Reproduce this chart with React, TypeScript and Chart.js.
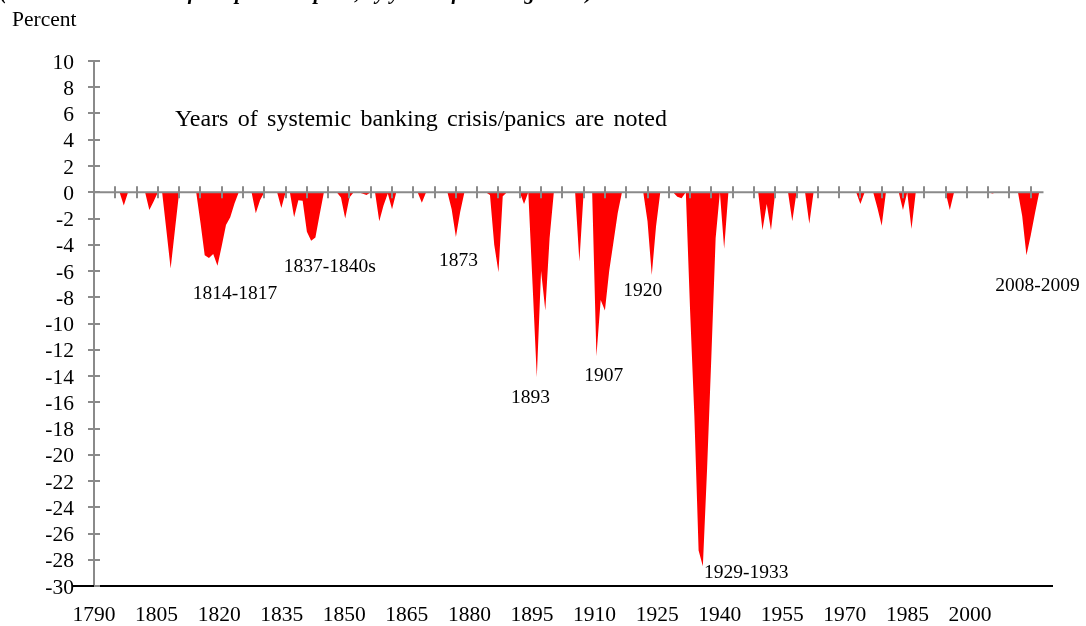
import React, { useEffect, useRef } from 'react';
import { Chart, registerables } from 'chart.js';

Chart.register(...registerables);

// ---- data ----
const startYear = 1790;
// Peak-to-trough output declines (percent), one value per year 1790..2012
const declines: number[] = [
  // 1790-1799
  0, 0, 0, 0, 0, 0, 0, -1.0, 0, 0,
  // 1800-1809
  0, 0, 0, -1.35, -0.7, 0, 0, -2.9, -5.8, -2.9,
  // 1810-1819
  0, 0, 0, 0, 0, -2.3, -4.8, -5.0, -4.7, -5.6,
  // 1820-1829
  -4.1, -2.5, -1.9, -0.85, 0, 0, 0, 0, -1.6, -0.6,
  // 1830-1839
  0, 0, 0, 0, -1.2, 0, 0, -1.9, -0.6, -0.65,
  // 1840-1849
  -3.0, -3.7, -3.45, -1.7, 0, 0, 0, 0, -0.4, -2.0,
  // 1850-1859
  -0.4, 0, 0, -0.1, -0.2, 0, 0, -2.2, -1.0, -0.1,
  // 1860-1869
  -1.3, 0, 0, 0, 0, 0, 0, -0.8, 0, 0,
  // 1870-1879
  0, 0, 0, 0, -1.3, -3.4, -1.5, 0, 0, 0,
  // 1880-1889
  0, 0, 0, -0.2, -4.0, -6.1, -0.3, 0, 0, 0,
  // 1890-1899
  0, -0.9, 0, -7.0, -14.1, -6.0, -9.0, -3.5, 0, 0,
  // 1900-1909
  0, 0, 0, 0, -5.3, 0, 0, 0, -12.5, -8.2,
  // 1910-1919
  -9.0, -6.0, -3.8, -1.6, 0, 0, 0, 0, 0, 0,
  // 1920-1929
  -2.2, -6.3, -2.6, 0, 0, 0, 0, -0.35, -0.45, 0,
  // 1930-1939
  -9.0, -17.0, -27.3, -28.5, -21.0, -12.5, -3.5, 0, -4.3, 0,
  // 1940-1949
  0, 0, 0, 0, 0, 0, 0, -2.9, -0.9, -2.9,
  // 1950-1959
  0, 0, 0, 0, -2.2, 0, 0, 0, -2.4, 0,
  // 1960-1969
  0, 0, 0, 0, 0, 0, 0, 0, 0, 0,
  // 1970-1979
  -0.9, 0, 0, 0, -1.2, -2.55, 0, 0, 0, 0,
  // 1980-1989
  -1.35, 0, -2.8, 0, 0, 0, 0, 0, 0, 0,
  // 1990-1999
  0, -1.35, 0, 0, 0, 0, 0, 0, 0, 0,
  // 2000-2009
  0, -0.1, 0, 0, 0, 0, 0, 0, -1.8, -4.8,
  // 2010-2012
  -3.3, -1.6, 0,
];

const bottomYearLabels = [1790, 1805, 1820, 1835, 1850, 1865, 1880, 1895, 1910, 1925, 1940, 1955, 1970, 1985, 2000];
const zeroLineTickYears = [
  1795, 1800, 1805, 1810, 1815, 1820, 1825, 1830, 1835, 1840, 1845, 1850, 1855, 1860, 1865,
  1870, 1875, 1880, 1885, 1890, 1895, 1900, 1905, 1910, 1915, 1920, 1925, 1930, 1935, 1940,
  1945, 1950, 1955, 1960, 1965, 1970, 1975, 1980, 1985, 1990, 1995, 2000, 2005, 2010,
];
const axisEndYear = 2013;

const crisisLabels = ['1814-1817', '1837-1840s', '1873', '1893', '1907', '1920', '1929-1933', '2008-2009'];

// ---- layout / style (kept apart from the data) ----
const crisisLabelAnchors = [
  { x: 1823.1, y: -7.75 },
  { x: 1845.4, y: -5.7 },
  { x: 1875.6, y: -5.24 },
  { x: 1892.5, y: -15.68 },
  { x: 1909.7, y: -14.0 },
  { x: 1918.9, y: -7.49 },
  { x: 1943.2, y: -28.97 },
  { x: 2011.6, y: -7.1 },
];
const noteText = 'Years of systemic banking crisis/panics are noted';
const noteAnchor = { x: 1809.0, y: 5.5, width: 492 };
const unitText = 'Percent';
const cutTitle = '(Cumulative declines from previous peak, by years of banking crisis)';

const RED = '#ff0000';
const GRAY = '#8a8a8a';
const SERIF = '"Liberation Serif", "Times New Roman", serif';

const points = declines.map((v, i) => ({ x: startYear + i, y: v }));

const overlayPlugin = {
  id: 'overlay',
  afterDatasetsDraw(chart: any) {
    const { ctx, scales, chartArea } = chart;
    const x = scales.x;
    const y = scales.y;
    const y0 = y.getPixelForValue(0);
    ctx.save();
    // zero axis line with crossing ticks
    ctx.strokeStyle = GRAY;
    ctx.lineWidth = 2;
    ctx.beginPath();
    ctx.moveTo(chartArea.left, y0);
    ctx.lineTo(x.getPixelForValue(axisEndYear), y0);
    ctx.stroke();
    ctx.beginPath();
    zeroLineTickYears.forEach((yr) => {
      const px = Math.round(x.getPixelForValue(yr));
      ctx.moveTo(px, y0 - 6);
      ctx.lineTo(px, y0 + 6);
    });
    ctx.stroke();
    // inner halves of the y-axis ticks
    ctx.beginPath();
    y.ticks.forEach((t: any) => {
      const py = Math.round(y.getPixelForValue(t.value));
      ctx.moveTo(chartArea.left, py);
      ctx.lineTo(chartArea.left + 6, py);
    });
    ctx.stroke();
    ctx.restore();
  },
  afterDraw(chart: any) {
    const { ctx, scales, chartArea } = chart;
    const x = scales.x;
    const y = scales.y;
    ctx.save();
    // bottom black line extends left of the y axis
    ctx.strokeStyle = '#000';
    ctx.lineWidth = 2;
    ctx.beginPath();
    ctx.moveTo(chartArea.left - 21, chartArea.bottom);
    ctx.lineTo(chartArea.left, chartArea.bottom);
    ctx.stroke();

    ctx.fillStyle = '#000';
    // unit label
    ctx.font = `21.5px ${SERIF}`;
    ctx.textAlign = 'left';
    ctx.textBaseline = 'middle';
    ctx.fillText(unitText, 12, 20.5);

    // cut-off title line at the very top
    ctx.font = `italic bold 21px ${SERIF}`;
    ctx.textBaseline = 'alphabetic';
    ctx.fillText(cutTitle, 0, -1.5);

    // note
    ctx.font = `24px ${SERIF}`;
    ctx.textBaseline = 'middle';
    const words = noteText.split(' ');
    const natural = ctx.measureText(noteText).width;
    const extra = (noteAnchor.width - natural) / (words.length - 1);
    let nx = x.getPixelForValue(noteAnchor.x);
    const ny = y.getPixelForValue(noteAnchor.y);
    const space = ctx.measureText(' ').width;
    words.forEach((w) => {
      ctx.fillText(w, nx, ny);
      nx += ctx.measureText(w).width + space + extra;
    });

    // crisis labels
    ctx.font = `19.5px ${SERIF}`;
    ctx.textAlign = 'center';
    crisisLabels.forEach((t, i) => {
      const a = crisisLabelAnchors[i];
      ctx.fillText(t, x.getPixelForValue(a.x), y.getPixelForValue(a.y));
    });
    ctx.restore();
  },
};

export default function App() {
  const ref = useRef<HTMLCanvasElement>(null);
  useEffect(() => {
    const canvas = ref.current as HTMLCanvasElement;
    const tickFont = { family: SERIF, size: 21.5 };
    const chart = new Chart(canvas, {
      type: 'line',
      data: {
        datasets: [
          {
            data: points,
            fill: 'origin',
            backgroundColor: RED,
            borderColor: 'rgba(0,0,0,0)',
            borderWidth: 0,
            pointRadius: 0,
            tension: 0,
            xAxisID: 'x',
            yAxisID: 'y',
          },
        ],
      },
      options: {
        animation: false,
        responsive: true,
        maintainAspectRatio: false,
        layout: { padding: { top: 61, right: 34, bottom: 0, left: 0 } },
        plugins: {
          legend: { display: false },
          tooltip: { enabled: false },
          title: { display: false },
        },
        scales: {
          x: { type: 'linear', min: 1790, max: 2015, display: false },
          xb: {
            type: 'linear',
            axis: 'x',
            position: 'bottom',
            min: 1790,
            max: 2019.66,
            afterBuildTicks: (s: any) => {
              s.ticks = bottomYearLabels.map((v) => ({ value: v }));
            },
            afterFit: (s: any) => {
              s.height = 40;
            },
            grid: { display: false, drawTicks: false },
            border: { display: true, color: '#000', width: 2 },
            ticks: {
              font: tickFont,
              color: '#000',
              padding: 16,
              maxRotation: 0,
              autoSkip: false,
              callback: (v: any) => String(v),
            },
          },
          y: {
            type: 'linear',
            position: 'left',
            min: -30,
            max: 10,
            afterFit: (s: any) => {
              s.width = 94;
            },
            ticks: { stepSize: 2, autoSkip: false, font: tickFont, color: '#000', padding: 14, labelOffset: 2 },
            grid: { drawOnChartArea: false, drawTicks: true, tickLength: 6, color: GRAY, lineWidth: 2 },
            border: { color: GRAY, width: 2 },
          },
        },
      } as any,
      plugins: [overlayPlugin],
    });
    return () => chart.destroy();
  }, []);
  return (
    <div style={{ position: 'fixed', left: 0, top: 0, width: 1086, height: 626, background: '#fff' }}>
      <canvas ref={ref} />
    </div>
  );
}
